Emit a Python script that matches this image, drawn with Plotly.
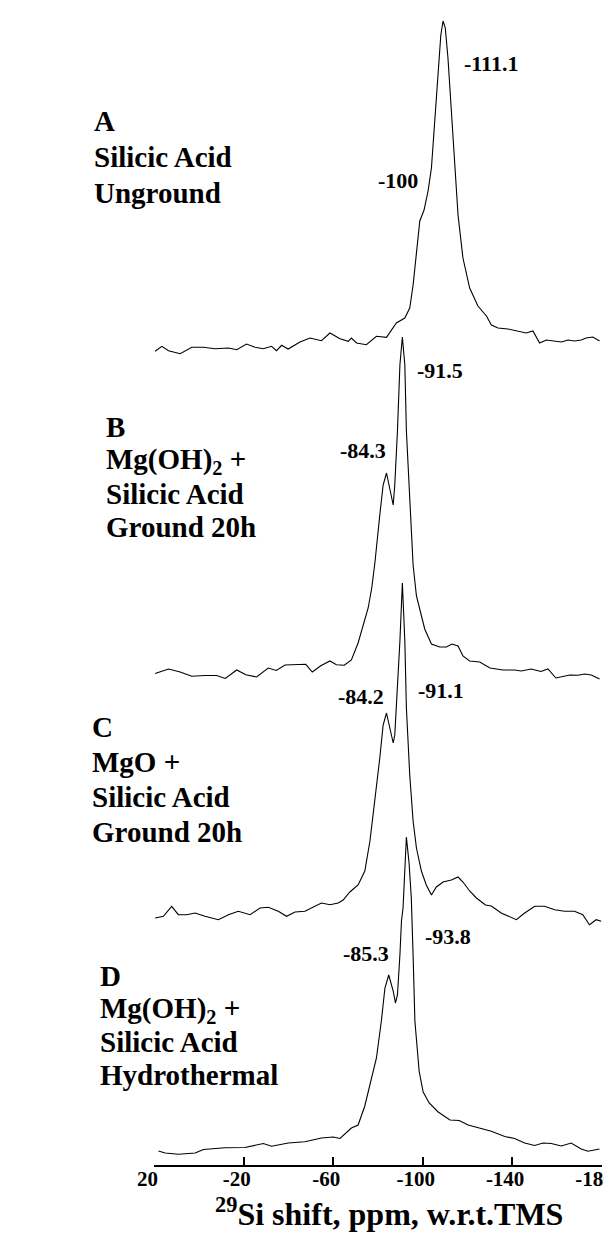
import plotly.graph_objects as go

# ---------------- data (ppm, intensity in arbitrary units) ----------------
ppm_A = [19.7, 16.7, 13.7, 11.5, 8.5, 3.3, -1.9, -7.1, -13.1, -16.8, -21.2, -25.0, -28.7, -32.4, -34.6,
         -36.9, -39.8, -45.1, -49.6, -54.7, -58.5, -63.0, -66.7, -68.1, -70.4, -74.8, -79.3, -83.8, -88.2,
         -92.0, -93.5, -94.2, -95.7, -97.2, -98.7, -100.6, -102.4, -103.9, -105.4, -106.9, -108.1, -109.1,
         -110.1, -111.3, -112.8, -114.3, -115.8, -118.0, -121.0, -124.7, -128.5, -130.7, -133.7, -138.1,
         -142.6, -146.3, -149.3, -152.3, -155.3, -158.2, -162.0, -165.0, -167.9, -170.9, -173.1, -176.1, -179.1]
int_A = [-3.3, 1.7, -2.7, -4, -5.7, 0.7, 0.7, -0.7, 0, -1.7, 4, 0.7, -0.7, 1.7, -2.7,
         2.7, -1, 6, 10, 7.3, 15, 9.3, 6.7, 10, 5, 3.3, 11.7, 10.7, 25,
         30, 37, 40, 63, 93, 127, 138, 157, 180, 230, 280, 313, 327,
         320, 290, 240, 180, 133, 90, 60, 42, 32, 23, 20, 19,
         17, 15, 17, 5, 8, 7, 6, 8, 7, 8, 10, 11, 7]

ppm_B = [19.7, 13.7, 8.5, 3.3, -2.6, -7.8, -11.7, -16.8, -20.9, -25.7, -30.9, -34.5, -38.4, -43.4, -47.7,
         -50.6, -54.4, -58.5, -61.4, -64.9, -68.1, -71.1, -74.1, -75.6, -77.2, -78.6, -80.8, -82.3, -83.8,
         -85.3, -86.8, -87.5, -88.7, -89.8, -90.9, -92.0, -92.7, -94.2, -95.7, -97.2, -99.4, -100.9, -103.9,
         -107.6, -110.6, -113.1, -115.8, -118.0, -121.0, -125.5, -130.1, -135.9, -141.1, -144.1, -148.5,
         -152.9, -156.0, -159.6, -165.8, -169.4, -172.5, -175.4, -179.1]
int_B = [0.5, 5, 2, -2.3, -1.5, -1.5, -4.5, 4, -0.7, -3, 6, 3.5, 9, 9, 9.7,
         2, 8.2, 13, 9.3, 8.7, 14, 31, 53, 66, 86, 111, 159, 189, 201,
         183, 169, 189, 243, 309, 337, 309, 243, 176, 109, 78, 57, 45, 30,
         27, 27, 30, 28, 18, 13, 12, 6, 4, 4, 3, 5,
         2.5, 5, -4, -1, -1.3, 0, -1, -5]

ppm_C = [19.7, 16.0, 12.3, 9.3, 5.6, 1.8, -2.6, -8.6, -13.1, -17.5, -22.8, -27.2, -30.9, -35.4, -39.1,
         -42.9, -47.3, -51.8, -54.7, -58.5, -62.2, -64.4, -67.4, -71.1, -74.1, -76.4, -78.6, -80.8, -82.3,
         -83.8, -85.3, -86.8, -87.5, -88.7, -89.8, -90.9, -92.0, -92.7, -94.2, -95.7, -97.2, -99.4, -101.6,
         -103.9, -106.1, -109.1, -112.8, -115.8, -118.0, -121.0, -124.0, -128.1, -130.7, -135.1, -138.9,
         -141.9, -145.6, -150.1, -154.5, -159.0, -163.5, -167.9, -171.6, -174.6, -177.6, -179.8]
int_C = [-5, -3.3, 6.7, -1.7, -1.7, 0, -3.3, -6.7, -1.7, 1.7, -1.7, 5, 5.7, 1.7, -3.3,
         1, 1.7, 6.7, 10, 8.3, 10, 13, 21, 28, 42, 72, 112, 155, 188,
         200, 185, 170, 178, 222, 272, 330, 272, 205, 138, 92, 65, 42, 28,
         18, 26, 31, 33, 36, 31, 22, 15, 8, 7, 0, -3.3,
         -6.7, 0, 6.7, 6.7, 3.3, 1.7, 1.7, -1.7, -11.7, -6.7, -8.3]

ppm_D = [18.2, 15.2, 9.3, 1.8, -1.9, -11.6, -20.5, -28.7, -32.4, -39.9, -47.3, -54.7, -60.0, -63.0, -68.1,
         -71.1, -74.1, -76.4, -79.3, -81.5, -83.1, -84.8, -86.8, -87.8, -88.7, -89.8, -90.5, -91.2, -92.7,
         -93.9, -94.9, -95.7, -96.5, -98.4, -100.2, -102.9, -106.9, -112.2, -116.3, -120.3, -124.7, -130.7,
         -136.7, -141.1, -145.6, -150.1, -153.8, -157.5, -162.0, -166.4, -170.9, -173.9, -179.1]
int_D = [-3, -5, -6.3, -5, -1.5, 0.3, 0.5, 4.5, 1.7, 5, 6.3, 10, 11, 9.5, 20,
         23, 42, 62, 90, 127, 160, 173, 157, 145, 153, 193, 227, 240, 311,
         285, 250, 193, 127, 77, 56, 45, 36, 28, 27.5, 23, 20.5, 16.7,
         11.5, 9.5, 5, 2.5, 5, 4.5, 2, 5, -1, -3.3, -1]

spectra = [(ppm_A, int_A), (ppm_B, int_B), (ppm_C, int_C), (ppm_D, int_D)]
stack_offsets = [817, 491, 252, 17]

sample_labels = [
    ["A", "Silicic Acid", "Unground"],
    ["B", "Mg(OH)<sub>2</sub> +", "Silicic Acid", "Ground 20h"],
    ["C", "MgO +", "Silicic Acid", "Ground 20h"],
    ["D", "Mg(OH)<sub>2</sub> +", "Silicic Acid", "Hydrothermal"],
]
peak_labels = [["-111.1", "-100"], ["-91.5", "-84.3"], ["-84.2", "-91.1"], ["-85.3", "-93.8"]]

tick_vals = [20, -20, -60, -100, -140, -180]
tick_text = ["20", "-20", "-60", "-100", "-140", "-180"]
x_title = "<sup>29</sup>Si shift, ppm, w.r.t.TMS"

# ---------------- layout constants ----------------
W, H = 612, 1236
ML, MR, MT, MB = 146, 18, 0, 79
PLOT_H = H - MT - MB
FONT = "Liberation Serif, Times New Roman, serif"

fig = go.Figure()
for (px, iy), off in zip(spectra, stack_offsets):
    fig.add_trace(go.Scatter(x=px, y=[v + off for v in iy], mode="lines",
                             line=dict(color="black", width=1.1), showlegend=False,
                             hoverinfo="skip"))

ann = []
# sample description blocks (left x in px, baselines in px)
block_x = [84, 96, 82, 90]
block_baselines = [[123, 159, 195], [429, 463, 496, 529], [729, 764, 799, 834], [978, 1012, 1044, 1077]]
for lines, bx, bls in zip(sample_labels, block_x, block_baselines):
    for t, bl in zip(lines, bls):
        ann.append(dict(text=t, xref="paper", x=(bx - ML) / (W - ML - MR), xanchor="left",
                        yref="y", y=PLOT_H - (bl - 10), yanchor="middle", showarrow=False,
                        font=dict(family=FONT, size=29, color="black", weight="bold")))

# peak labels (center positions in ppm / data y)
peak_pos = [[(-130.7, 1102), (-89.0, 985)], [(-107.6, 795), (-73.4, 715)],
            [(-72.6, 469), (-108.3, 475)], [(-74.8, 212), (-111.3, 229)]]
for labs, poss in zip(peak_labels, peak_pos):
    for t, (xx, yy) in zip(labs, poss):
        ann.append(dict(text=t, x=xx, y=yy, xref="x", yref="y", showarrow=False,
                        xanchor="center", yanchor="middle",
                        font=dict(family=FONT, size=22, color="black", weight="bold")))

# axis title
ann.append(dict(text=x_title, xref="paper", yref="paper", x=(381 - ML) / (W - ML - MR),
                y=(PLOT_H - 1204) / PLOT_H, xanchor="center", yanchor="middle", showarrow=False,
                font=dict(family=FONT, size=32, color="black", weight="bold")))

fig.update_layout(
    width=W, height=H, margin=dict(l=ML, r=MR, t=MT, b=MB),
    paper_bgcolor="white", plot_bgcolor="white",
    annotations=ann,
    xaxis=dict(range=[20.2, -180.2], showgrid=False, zeroline=False, showline=True,
               linecolor="black", linewidth=2, ticks="inside", ticklen=8, tickwidth=1.5,
               tickcolor="black", tickvals=tick_vals, ticktext=tick_text,
               ticklabelstandoff=-6, ticklabeloverflow="allow", ticklabelshift=7,
               tickfont=dict(family=FONT, size=21, color="black", weight="bold")),
    yaxis=dict(range=[0, PLOT_H], visible=False, fixedrange=True),
)

fig.write_html("out.html")
